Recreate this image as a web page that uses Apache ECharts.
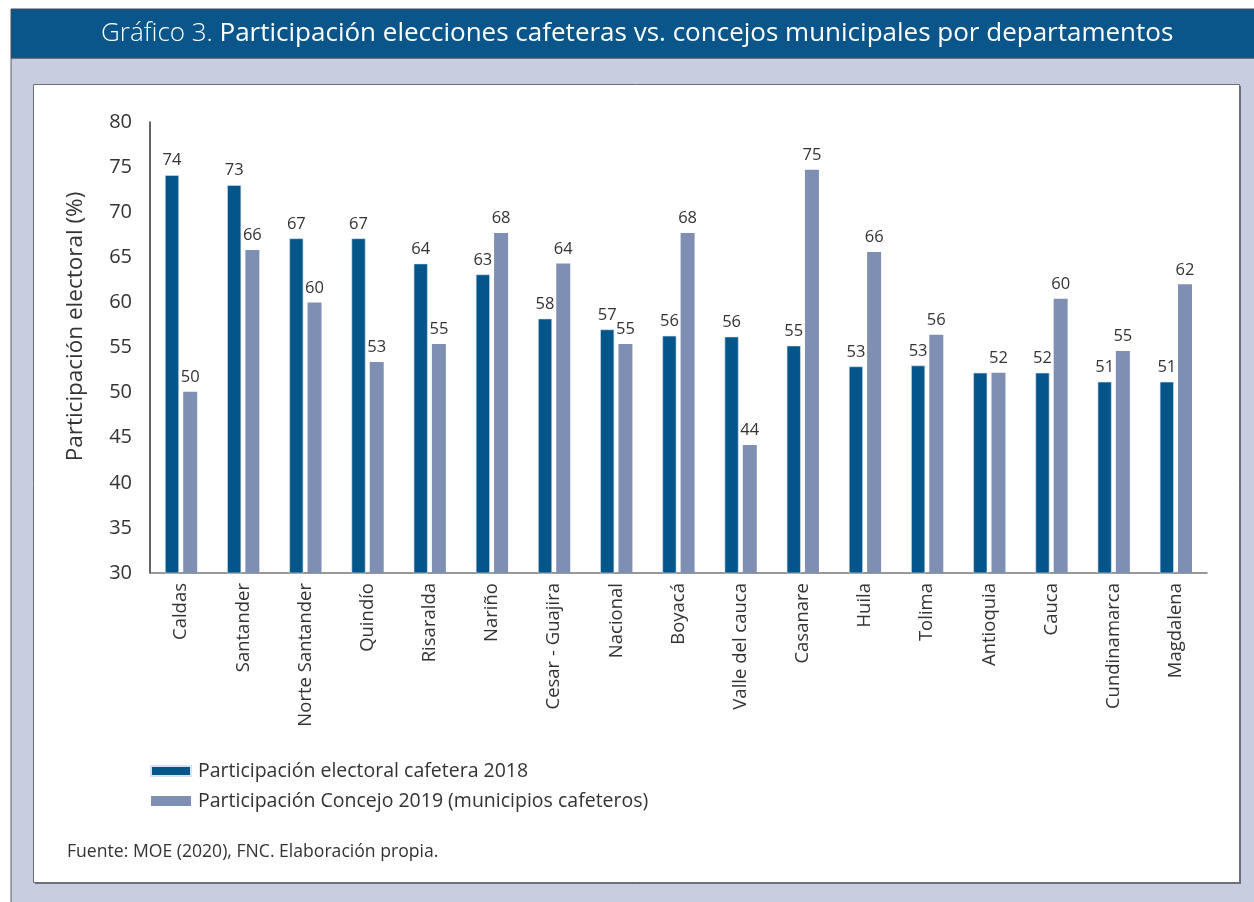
<!DOCTYPE html>
<html>
<head>
<meta charset="utf-8">
<script src="https://cdn.jsdelivr.net/npm/echarts@6/dist/echarts.min.js"></script>
<style>
html,body{margin:0;padding:0;background:#fff;}
#chart{width:1254px;height:902px;}
</style>
</head>
<body>
<div id="chart"></div>
<script>
// ---- Data ----
var categories = ['Caldas','Santander','Norte Santander','Quindío','Risaralda','Nariño','Cesar - Guajira','Nacional','Boyacá','Valle del cauca','Casanare','Huila','Tolima','Antioquia','Cauca','Cundinamarca','Magdalena'];
var cafetera2018 = [74.1, 73.0, 67.1, 67.1, 64.3, 63.1, 58.2, 57.0, 56.3, 56.2, 55.2, 52.9, 53.0, 52.2, 52.2, 51.2, 51.2];
var concejo2019 = [50.1, 65.8, 60.0, 53.4, 55.4, 67.7, 64.3, 55.4, 67.7, 44.2, 74.7, 65.6, 56.4, 52.2, 60.4, 54.6, 62.0];
var seriesNames = ['Participación electoral cafetera 2018', 'Participación Concejo 2019 (municipios cafeteros)'];
var hiddenDarkLabels = ['Antioquia'];
var yTicks = [30, 35, 40, 45, 50, 55, 60, 65, 70, 75, 80];

var FONT = '"Open Sans", Lato, sans-serif';
var DARK = '#03558a';
var LIGHT = '#7f8fb3';

var chart = echarts.init(document.getElementById('chart'), null, {renderer: 'canvas'});

var darkData = cafetera2018.map(function (v, i) {
  var item = {value: v};
  if (hiddenDarkLabels.indexOf(categories[i]) >= 0) item.label = {show: false};
  return item;
});

var option = {
  backgroundColor: '#ffffff',
  animation: false,
  graphic: [
    {type: 'rect', silent: true, z: -10, shape: {x: 11, y: 58, width: 1260, height: 860}, style: {fill: '#c8cde0', stroke: '#5a5a66', lineWidth: 1}},
    {type: 'rect', silent: true, z: -9, shape: {x: 11, y: 9, width: 1260, height: 49}, style: {fill: '#0a5589', stroke: '#4a4a58', lineWidth: 1}},
    {type: 'rect', silent: true, z: -8, shape: {x: 35, y: 86, width: 1206, height: 798}, style: {fill: '#6e6e78'}},
    {type: 'rect', silent: true, z: -7, shape: {x: 33.5, y: 84.5, width: 1206, height: 798}, style: {fill: '#ffffff', stroke: '#6e6e78', lineWidth: 1}},
    {type: 'text', z: 10, left: 67, top: 843, style: {text: 'Fuente: MOE (2020), FNC. Elaboración propia.', font: '17.6px ' + FONT, fill: '#333333'}}
  ],
  title: {
    text: '{a|Gráfico 3. }{b|Participación elecciones cafeteras vs. concejos municipales por departamentos}',
    left: 96,
    top: 16,
    textStyle: {
      rich: {
        a: {fontFamily: FONT, fontSize: 26, fontWeight: 300, color: '#ffffff'},
        b: {fontFamily: FONT, fontSize: 26, fontWeight: 400, color: '#ffffff'}
      }
    }
  },
  legend: {
    orient: 'vertical',
    left: 150,
    top: 761,
    padding: 0,
    itemWidth: 40,
    itemHeight: 10,
    itemGap: 10,
    icon: 'rect',
    textStyle: {fontFamily: FONT, fontSize: 19.5, color: '#333333', padding: [0, 0, 0, 2]},
    data: seriesNames
  },
  grid: {left: 150, right: 47, top: 122, bottom: 329, containLabel: false},
  xAxis: {
    type: 'category',
    data: categories,
    axisLine: {show: true, lineStyle: {color: '#777777', width: 1.5}},
    axisTick: {show: false},
    axisLabel: {rotate: 90, interval: 0, fontFamily: FONT, fontSize: 18.5, color: '#333333', margin: 10}
  },
  yAxis: {
    type: 'value',
    min: yTicks[0],
    max: yTicks[yTicks.length - 1],
    interval: 5,
    name: 'Participación electoral (%)',
    nameLocation: 'middle',
    nameRotate: 90,
    nameGap: 63,
    nameTextStyle: {fontFamily: FONT, fontSize: 22.5, color: '#333333', padding: [0, 0, 0, 42]},
    axisLine: {show: true, lineStyle: {color: '#333333', width: 1.5}},
    axisTick: {show: false},
    splitLine: {show: false},
    axisLabel: {fontFamily: FONT, fontSize: 20, color: '#333333', margin: 18}
  },
  series: [
    {
      name: seriesNames[0],
      type: 'bar',
      data: darkData,
      barWidth: 14,
      barGap: '30%',
      itemStyle: {color: DARK, borderColor: '#d8e2ee', borderWidth: 0.6},
      label: {show: true, position: 'top', distance: 6, fontFamily: FONT, fontSize: 16.5, color: '#333333',
        formatter: function (p) { return Math.round(p.value); }}
    },
    {
      name: seriesNames[1],
      type: 'bar',
      data: concejo2019,
      barWidth: 14,
      itemStyle: {color: LIGHT},
      label: {show: true, position: 'top', distance: 6, fontFamily: FONT, fontSize: 16.5, color: '#333333',
        formatter: function (p) { return Math.round(p.value); }}
    }
  ]
};
chart.setOption(option);
</script>
</body>
</html>
